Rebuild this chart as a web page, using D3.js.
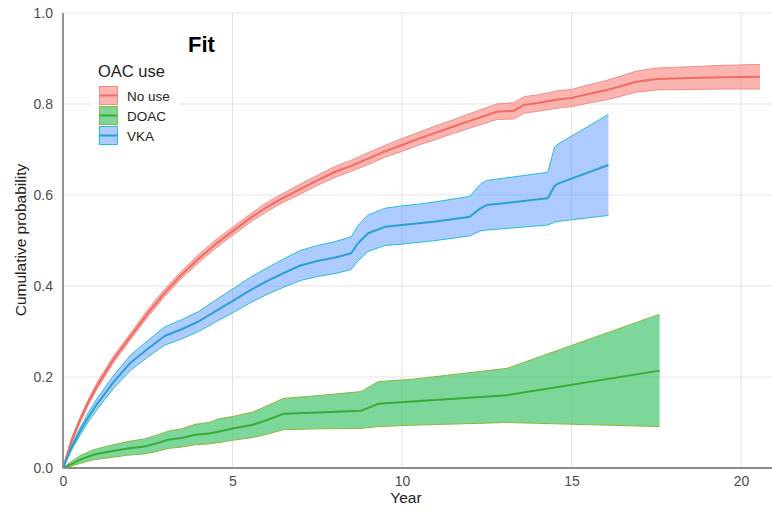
<!DOCTYPE html>
<html>
<head>
<meta charset="utf-8">
<script src="https://cdn.jsdelivr.net/npm/d3@7"></script>
<style>
  html, body { margin: 0; padding: 0; background: #fff; }
  svg { display: block; }
  text { font-family: "Liberation Sans", Arial, Helvetica, sans-serif; }
</style>
</head>
<body>
<svg id="chart" width="772" height="512"></svg>
<script>
// Cumulative probability by OAC use (estimate with confidence band)
const groups = ["No use", "DOAC", "VKA"];

const noUseYear = [0, 0.25, 0.5, 0.75, 1, 1.5, 2, 2.5, 3, 3.5, 4, 4.5, 5, 5.5, 6, 6.4, 7, 7.5, 8, 8.5, 9, 9.5, 10, 10.5, 11, 11.5, 12, 12.8, 13.3, 13.6, 14, 14.6, 15, 15.5, 16, 16.4, 16.9, 17.5, 18.5, 19.5, 20.56];
const noUseEst  = [0, 0.060, 0.105, 0.145, 0.180, 0.240, 0.290, 0.340, 0.385, 0.425, 0.460, 0.492, 0.520, 0.548, 0.573, 0.590, 0.613, 0.632, 0.650, 0.664, 0.680, 0.696, 0.710, 0.724, 0.737, 0.750, 0.763, 0.783, 0.785, 0.798, 0.802, 0.810, 0.813, 0.822, 0.830, 0.838, 0.849, 0.855, 0.857, 0.859, 0.860];
const noUseLo   = [0, 0.055, 0.099, 0.139, 0.173, 0.233, 0.283, 0.332, 0.377, 0.417, 0.451, 0.483, 0.511, 0.539, 0.563, 0.580, 0.602, 0.621, 0.638, 0.652, 0.667, 0.683, 0.696, 0.710, 0.722, 0.735, 0.747, 0.766, 0.767, 0.780, 0.784, 0.791, 0.794, 0.802, 0.809, 0.816, 0.826, 0.831, 0.832, 0.833, 0.833];
const noUseHi   = [0, 0.065, 0.111, 0.151, 0.187, 0.247, 0.297, 0.348, 0.393, 0.433, 0.469, 0.501, 0.529, 0.557, 0.583, 0.600, 0.624, 0.643, 0.662, 0.676, 0.693, 0.709, 0.724, 0.738, 0.752, 0.765, 0.779, 0.800, 0.803, 0.816, 0.820, 0.829, 0.832, 0.842, 0.851, 0.860, 0.872, 0.879, 0.882, 0.885, 0.887];

const doacYear = [0, 0.2, 0.5, 0.9, 1.3, 1.9, 2.4, 2.8, 3.1, 3.5, 3.9, 4.3, 4.6, 5.0, 5.6, 6.0, 6.5, 7.5, 8.8, 9.3, 10.3, 13.1, 17.6];
const doacEst  = [0, 0.007, 0.018, 0.029, 0.035, 0.043, 0.047, 0.055, 0.062, 0.066, 0.073, 0.076, 0.080, 0.087, 0.095, 0.105, 0.119, 0.122, 0.126, 0.141, 0.146, 0.160, 0.214];
const doacLo   = [0, 0.003, 0.010, 0.018, 0.022, 0.028, 0.031, 0.037, 0.043, 0.046, 0.051, 0.053, 0.056, 0.061, 0.067, 0.074, 0.084, 0.086, 0.087, 0.091, 0.094, 0.100, 0.091];
const doacHi   = [0, 0.012, 0.027, 0.040, 0.048, 0.058, 0.064, 0.073, 0.081, 0.086, 0.096, 0.100, 0.108, 0.113, 0.123, 0.136, 0.153, 0.159, 0.168, 0.190, 0.195, 0.219, 0.338];

const vkaYear = [0, 0.25, 0.5, 0.75, 1, 1.5, 2, 2.5, 3, 3.5, 4, 4.5, 5, 5.5, 6, 6.5, 7, 7.5, 8, 8.5, 8.7, 9.0, 9.5, 10, 10.5, 11, 12, 12.3, 12.5, 13, 14.3, 14.5, 14.6, 16.09];
const vkaEst  = [0, 0.045, 0.080, 0.112, 0.140, 0.190, 0.232, 0.262, 0.290, 0.305, 0.322, 0.345, 0.367, 0.390, 0.410, 0.428, 0.445, 0.455, 0.462, 0.472, 0.494, 0.516, 0.530, 0.534, 0.538, 0.542, 0.552, 0.570, 0.578, 0.582, 0.593, 0.620, 0.625, 0.666];
const vkaLo   = [0, 0.039, 0.072, 0.102, 0.128, 0.176, 0.215, 0.244, 0.270, 0.284, 0.300, 0.321, 0.341, 0.362, 0.381, 0.397, 0.412, 0.421, 0.427, 0.436, 0.455, 0.476, 0.489, 0.492, 0.496, 0.500, 0.510, 0.521, 0.523, 0.526, 0.534, 0.540, 0.542, 0.555];
const vkaHi   = [0, 0.051, 0.088, 0.122, 0.152, 0.204, 0.249, 0.280, 0.310, 0.326, 0.344, 0.369, 0.393, 0.418, 0.439, 0.459, 0.478, 0.489, 0.497, 0.508, 0.533, 0.556, 0.571, 0.576, 0.580, 0.585, 0.597, 0.623, 0.632, 0.637, 0.650, 0.705, 0.712, 0.777];

const xTicks = [0, 5, 10, 15, 20];
const yTicks = [0, 0.2, 0.4, 0.6, 0.8, 1.0];

const styles = {
  "No use": { fill: "#f8766d", fillOpacity: 0.55, edge: "#f28e88", line: "#ef6b64" },
  "DOAC":   { fill: "#3fc46c", fillOpacity: 0.68, edge: "#8cb83a", line: "#3aab36" },
  "VKA":    { fill: "#619cff", fillOpacity: 0.52, edge: "#26bfcc", line: "#2a9fd4" }
};

function rows(year, est, lo, hi) {
  return year.map((t, i) => ({ t, est: est[i], lo: lo[i], hi: hi[i] }));
}
const series = [
  { name: "No use", data: rows(noUseYear, noUseEst, noUseLo, noUseHi) },
  { name: "DOAC",   data: rows(doacYear, doacEst, doacLo, doacHi) },
  { name: "VKA",    data: rows(vkaYear, vkaEst, vkaLo, vkaHi) }
];

const svg = d3.select("#chart");
const x = d3.scaleLinear().domain([0, 20]).range([63, 741]);
const y = d3.scaleLinear().domain([0, 1]).range([468, 13]);
const right = 772;

// grid
const grid = svg.append("g");
grid.selectAll("line.gx").data(xTicks).join("line")
  .attr("x1", d => x(d)).attr("x2", d => x(d))
  .attr("y1", y(1) ).attr("y2", y(0))
  .attr("stroke", "#e3e3e3").attr("stroke-width", 1.1);
grid.selectAll("line.gy").data(yTicks).join("line")
  .attr("x1", x(0)).attr("x2", right)
  .attr("y1", d => y(d)).attr("y2", d => y(d))
  .attr("stroke", "#e3e3e3").attr("stroke-width", 1.1);

// legend background masks the grid underneath it
svg.append("rect").attr("x", 90).attr("y", 56).attr("width", 88).attr("height", 94).attr("fill", "#fff");

// ribbons
const band = d3.area().x(d => x(d.t)).y0(d => y(d.lo)).y1(d => y(d.hi));
const edgeLo = d3.line().x(d => x(d.t)).y(d => y(d.lo));
const edgeHi = d3.line().x(d => x(d.t)).y(d => y(d.hi));
const mid = d3.line().x(d => x(d.t)).y(d => y(d.est));

const layer = svg.append("g");
series.forEach(s => {
  const st = styles[s.name];
  layer.append("path").attr("d", band(s.data))
    .attr("fill", st.fill).attr("fill-opacity", st.fillOpacity).attr("stroke", "none");
  layer.append("path").attr("d", edgeLo(s.data)).attr("fill", "none").attr("stroke", st.edge).attr("stroke-width", 1);
  layer.append("path").attr("d", edgeHi(s.data)).attr("fill", "none").attr("stroke", st.edge).attr("stroke-width", 1);
});
series.forEach(s => {
  const st = styles[s.name];
  layer.append("path").attr("d", mid(s.data)).attr("fill", "none")
    .attr("stroke", st.line).attr("stroke-width", 2).attr("stroke-linejoin", "round");
});

// axes
const xAxis = svg.append("g").attr("transform", `translate(0,${y(0)})`)
  .call(d3.axisBottom(x).tickValues(xTicks).tickFormat(d3.format("d")).tickSize(0).tickPadding(8));
xAxis.select(".domain").remove();
xAxis.selectAll("text").attr("font-size", 14).attr("fill", "#4d4d4d")
  .attr("font-family", "Liberation Sans, Arial, sans-serif");

const yAxis = svg.append("g").attr("transform", `translate(${x(0)},0)`)
  .call(d3.axisLeft(y).tickValues(yTicks).tickFormat(d3.format(".1f")).tickSize(0).tickPadding(10));
yAxis.select(".domain").remove();
yAxis.selectAll("text").attr("font-size", 14).attr("fill", "#4d4d4d")
  .attr("font-family", "Liberation Sans, Arial, sans-serif");

svg.append("line").attr("x1", x(0)).attr("x2", right).attr("y1", y(0)).attr("y2", y(0))
  .attr("stroke", "#8a8a8a").attr("stroke-width", 1.8);
svg.append("line").attr("x1", x(0)).attr("x2", x(0)).attr("y1", y(1)).attr("y2", y(0))
  .attr("stroke", "#8a8a8a").attr("stroke-width", 1.8);

// axis titles
svg.append("text").attr("x", 406).attr("y", 503).attr("text-anchor", "middle")
  .attr("font-size", 15.5).attr("fill", "#222").text("Year");
svg.append("text").attr("transform", "translate(26,240) rotate(-90)").attr("text-anchor", "middle")
  .attr("font-size", 15.5).attr("fill", "#222").text("Cumulative probability");

// panel label
svg.append("text").attr("x", 188).attr("y", 52)
  .attr("font-family", "Open Sans, sans-serif").attr("font-weight", 700)
  .attr("font-size", 22).attr("fill", "#000").text("Fit");

// legend
const lg = svg.append("g");
lg.append("text").attr("x", 98).attr("y", 77).attr("font-size", 16.5).attr("fill", "#222").text("OAC use");
groups.forEach((g, i) => {
  const st = styles[g];
  const top = 86 + i * 20;
  lg.append("rect").attr("x", 99.5).attr("y", top + 0.5).attr("width", 18).attr("height", 18)
    .attr("fill", st.fill).attr("fill-opacity", st.fillOpacity)
    .attr("stroke", st.edge).attr("stroke-width", 1);
  lg.append("line").attr("x1", 100).attr("x2", 117).attr("y1", top + 9.5).attr("y2", top + 9.5)
    .attr("stroke", st.line).attr("stroke-width", 2);
  lg.append("text").attr("x", 127).attr("y", top + 14.5).attr("font-size", 13.5).attr("fill", "#222").text(g);
});
</script>
</body>
</html>
